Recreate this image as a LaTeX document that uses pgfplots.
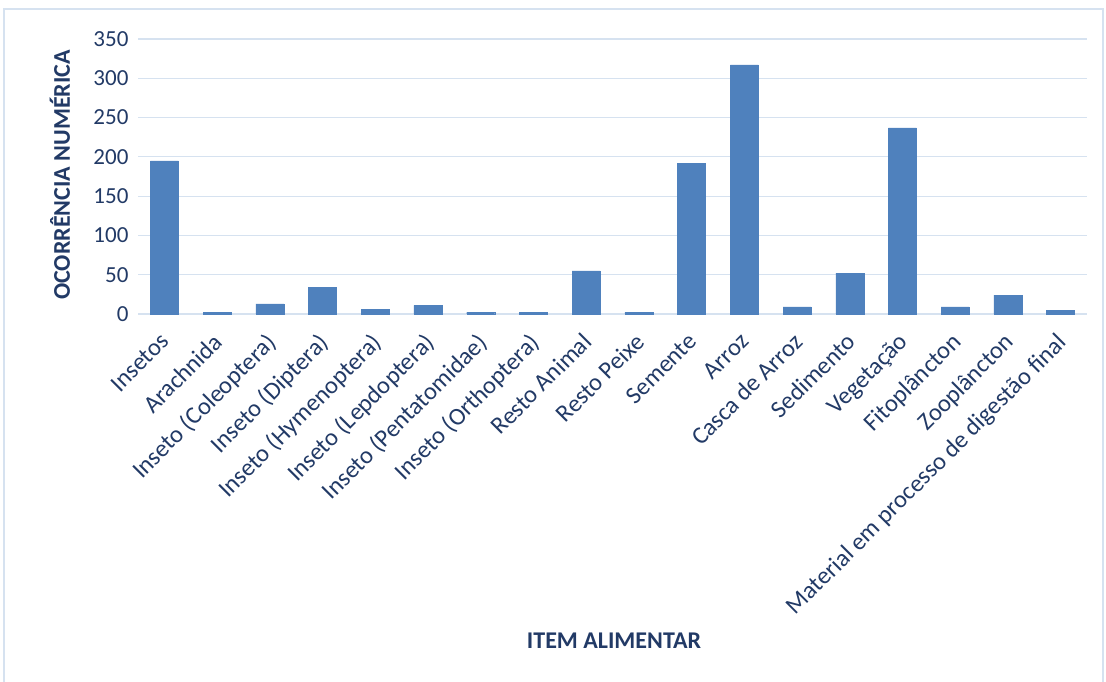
\documentclass[border=0pt]{standalone}
\usepackage{pgfplots}
\pgfplotsset{compat=1.18}
\usepackage{fontspec}
\setmainfont{Carlito}
\definecolor{barblue}{RGB}{79,129,189}
\definecolor{txt}{RGB}{34,58,102}
\definecolor{gridc}{RGB}{214,226,240}
\definecolor{frame}{RGB}{214,226,240}

\begin{document}
\begin{tikzpicture}[x=1pt,y=1pt]
\path[use as bounding box] (0,0) rectangle (1106,682);
\draw[frame,line width=1.2pt] (4,-5) -- (4,673) -- (1103,673) -- (1103,-5);
\begin{axis}[
    at={(138pt,368pt)}, anchor=south west,
    scale only axis,
    width=949pt, height=275pt,
    ybar, bar width=28pt,
    xmin=-0.5, xmax=17.5,
    ymin=0, ymax=350,
    ytick={0,50,...,350},
    xtick={0,...,17},
    xticklabels={Insetos,Arachnida,Inseto (Coleoptera),Inseto (Diptera),Inseto (Hymenoptera),Inseto (Lepdoptera),Inseto (Pentatomidae),Inseto (Orthoptera),Resto Animal,Resto Peixe,Semente,Arroz,Casca de Arroz,Sedimento,Vegetação,Fitoplâncton,Zooplâncton,Material em processo de digestão final},
    x tick label style={xshift=-5pt, yshift=-16pt, rotate=45, anchor=north east, font=\fontsize{24.5}{26}\selectfont, text=txt, inner sep=1pt},
    y tick label style={font=\fontsize{23}{25}\selectfont, text=txt, xshift=-6pt},
    /pgf/number format/assume math mode=true,
    axis line style={draw=none},
    axis x line*=bottom,
    major tick length=0pt,
    ymajorgrids, grid style={gridc, line width=1.2pt},
    extra y ticks={0}, extra y tick style={grid style={gridc,line width=1.5pt}, yticklabels={}},
    clip=false,
]
\addplot[fill=barblue, draw=barblue, line width=0.3pt] coordinates {
(0,195) (1,2) (2,13) (3,34) (4,6) (5,11) (6,2) (7,2) (8,55) (9,2)
(10,192) (11,317) (12,9) (13,52) (14,237) (15,9) (16,24) (17,5)
};
\end{axis}
\node[font=\fontsize{24}{26}\selectfont\bfseries, text=txt, rotate=90] at (60,507) {OCORRÊNCIA NUMÉRICA};
\node[font=\fontsize{24}{26}\selectfont\bfseries, text=txt] at (614,41) {ITEM ALIMENTAR};
\end{tikzpicture}
\end{document}
